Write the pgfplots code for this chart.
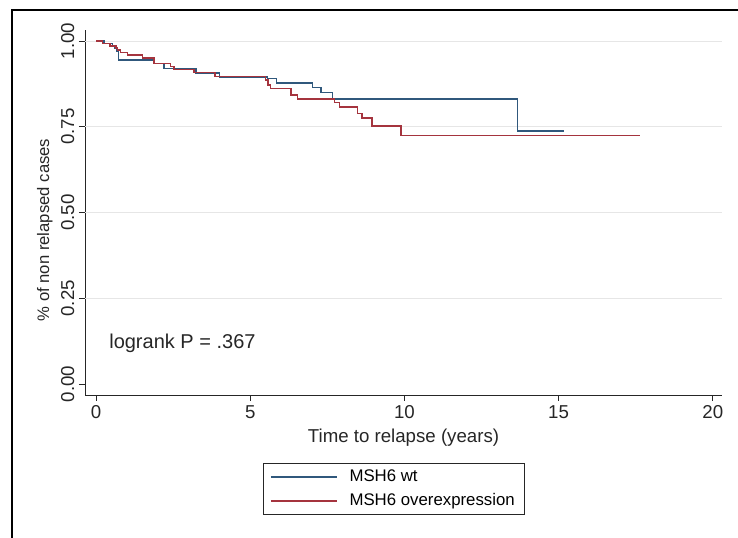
\documentclass[border=0pt]{standalone}
\usepackage{pgfplots}
\pgfplotsset{compat=1.18}
\usepackage{fontspec}
\setmainfont{Liberation Sans}

\definecolor{wtblue}{RGB}{48,88,124}
\definecolor{ovred}{RGB}{165,52,62}
\definecolor{gridgray}{RGB}{230,230,230}

\begin{document}
\begin{tikzpicture}[x=0.75pt,y=0.75pt]
\useasboundingbox (0,0) rectangle (738,538);
% outer graph frame
\draw[line width=1.2pt] (12,0) -- (12,528) -- (738,528);

\begin{axis}[
  at={(63.75pt,107.25pt)}, anchor=south west,
  scale only axis,
  width=477.75pt, height=273.75pt,
  xmin=-0.36, xmax=20.3,
  ymin=-0.032, ymax=1.032,
  axis x line*=bottom, axis y line*=left,
  axis line style={-, line width=0.6pt, black!85},
  tick align=outside,
  major tick length=4.5pt,
  tick style={line width=0.6pt, black!85},
  xtick={0,5,10,15,20},
  ytick={0,0.25,0.5,0.75,1},
  yticklabels={0.00,0.25,0.50,0.75,1.00},
  extra y ticks={0.25,0.5,0.75,1},
  extra y tick labels={},
  extra y tick style={grid=major, major tick length=0pt},
  grid style={gridgray, line width=0.6pt},
  /pgf/number format/assume math mode=true,
  ticklabel style={font=\fontsize{14}{16}\selectfont, black!85},
  yticklabel style={rotate=90, anchor=south},
  xlabel={Time to relapse (years)},
  ylabel={\% of non relapsed cases},
  xlabel style={font=\fontsize{14}{16}\selectfont, black!85, yshift=-1pt},
  ylabel style={font=\fontsize{12.5}{15}\selectfont, black!85,
    at={(axis description cs:-0.063,0.452)}, anchor=center},
  legend style={
    at={(axis description cs:0.2794,-0.1863)}, anchor=north west,
    draw=black!85, line width=0.6pt,
    font=\fontsize{12.6}{15}\selectfont,
    inner xsep=5pt, inner ysep=3pt,
    row sep=3.5pt, column sep=7pt,
    cells={anchor=west},
  },
  legend image code/.code={\draw[#1] (0pt,0pt) -- (49.5pt,0pt);},
]
\addplot[const plot, color=wtblue, draw=wtblue, line width=1.1pt] coordinates {
  (0,1) (0.26,0.993) (0.53,0.985) (0.60,0.979) (0.67,0.969) (0.73,0.945)
  (1.88,0.935) (2.20,0.920) (3.24,0.906) (4.00,0.895) (5.56,0.890)
  (5.85,0.878) (7.02,0.865) (7.29,0.850) (7.67,0.831) (13.67,0.738)
  (15.18,0.738)
};
\addlegendentry{MSH6 wt}
\addplot[const plot, color=ovred, draw=ovred, line width=1.1pt] coordinates {
  (0,1) (0.20,0.993) (0.45,0.986) (0.64,0.979) (0.69,0.974) (0.80,0.966)
  (1.02,0.959) (1.50,0.950) (1.88,0.935) (2.42,0.925) (2.53,0.917)
  (3.18,0.908) (3.86,0.896) (5.50,0.886) (5.58,0.872) (5.65,0.862)
  (6.32,0.843) (6.53,0.831) (7.73,0.820) (7.89,0.807) (8.48,0.789)
  (8.63,0.775) (8.95,0.752) (9.89,0.724) (17.63,0.724)
};
\addlegendentry{MSH6 overexpression}
\node[anchor=west, font=\fontsize{15}{17}\selectfont, black!85, inner sep=0pt]
  at (axis cs:0.42,0.12) {logrank P = .367};
\end{axis}
\end{tikzpicture}
\end{document}
